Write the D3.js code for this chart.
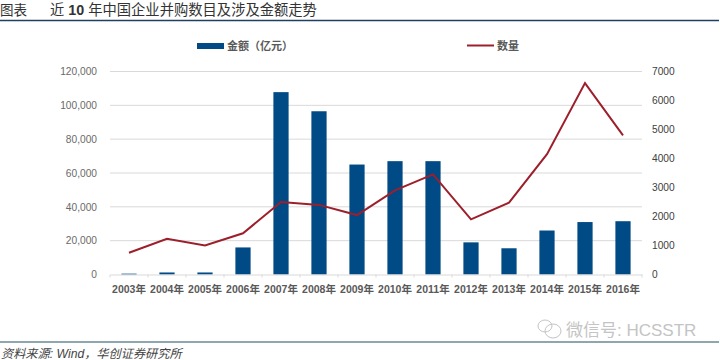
<!DOCTYPE html>
<html>
<head>
<meta charset="utf-8">
<script src="https://cdn.jsdelivr.net/npm/d3@7"></script>
<style>
  html, body { margin: 0; padding: 0; background: #fff; }
  svg { display: block; }
  text { font-family: "Liberation Sans", "Noto Sans CJK SC", sans-serif; }
</style>
</head>
<body>
<svg id="chart" width="720" height="360"></svg>
<script>
// The data
var years = ["2003年","2004年","2005年","2006年","2007年","2008年","2009年","2010年","2011年","2012年","2013年","2014年","2015年","2016年"];
var amounts = [500,1200,1200,16000,107800,96500,65000,67000,67000,19000,15500,26000,31000,31500];
var counts = [750,1230,1000,1420,2500,2400,2050,2900,3450,1900,2480,4150,6600,4800];
var leftTicks = [0,20000,40000,60000,80000,100000,120000];
var rightTicks = [0,1000,2000,3000,4000,5000,6000,7000];

var svg = d3.select("#chart"),
    margin = {top: 71.5, right: 78, bottom: 85.5, left: 110},
    width = +svg.attr("width") - margin.left - margin.right,
    height = +svg.attr("height") - margin.top - margin.bottom,
    g = svg.append("g").attr("transform", "translate(" + margin.left + "," + margin.top + ")");

// Scales
var x = d3.scaleBand().domain(years).range([0, width]).paddingInner(0.6).paddingOuter(0.3);
var yLeft = d3.scaleLinear().domain([0, 120000]).range([height, 0]);
var yRight = d3.scaleLinear().domain([0, 7000]).range([height, 0]);

// Header and footer
svg.append("text").attr("x", 0).attr("y", 15).attr("font-size", 13.5).attr("fill", "#333").text("图表");
svg.append("text").attr("x", 50).attr("y", 15).attr("font-size", 14.3).attr("fill", "#333")
    .html('近 <tspan font-weight="bold">10</tspan> 年中国企业并购数目及涉及金额走势');
svg.append("line").attr("x1", 0).attr("x2", 719).attr("y1", 20.5).attr("y2", 20.5)
    .attr("stroke", "#1f3f63").attr("stroke-width", 1.5);
svg.append("line").attr("x1", 0).attr("x2", 719).attr("y1", 342).attr("y2", 342)
    .attr("stroke", "#1f4f63").attr("stroke-width", 1.2);
svg.append("text").attr("x", 1).attr("y", 358).attr("font-size", 12.2).attr("font-style", "italic")
    .attr("fill", "#444").text("资料来源: Wind，华创证券研究所");

// Watermark
var mark = svg.append("g").attr("fill", "none").attr("stroke", "#c4c4c4").attr("stroke-width", 1);
mark.append("ellipse").attr("cx", 545).attr("cy", 326).attr("rx", 7).attr("ry", 6);
mark.append("ellipse").attr("cx", 553).attr("cy", 331).attr("rx", 8).attr("ry", 7);
svg.append("text").attr("x", 566).attr("y", 336).attr("font-size", 17).attr("fill", "#c4c4c4").text("微信号: HCSSTR");

// Grid
g.selectAll(".grid").data(leftTicks.slice(1)).enter().append("line")
    .attr("class", "grid")
    .attr("x1", 0).attr("x2", width)
    .attr("y1", function(d) { return yLeft(d); })
    .attr("y2", function(d) { return yLeft(d); })
    .attr("stroke", "#d9d9d9");

// Bars
g.selectAll(".bar").data(amounts).enter().append("rect")
    .attr("class", "bar")
    .attr("x", function(d, i) { return x(years[i]); })
    .attr("y", function(d) { return yLeft(d); })
    .attr("width", x.bandwidth())
    .attr("height", function(d) { return height - yLeft(d); })
    .attr("fill", "#004a85");

// Line
var line = d3.line()
    .x(function(d, i) { return x(years[i]) + x.bandwidth() / 2; })
    .y(function(d) { return yRight(d); });
g.append("path").datum(counts)
    .attr("d", line)
    .attr("fill", "none")
    .attr("stroke", "#9c1f2b")
    .attr("stroke-width", 2);

// Axis - bottom
var xAxis = g.append("g").attr("transform", "translate(0," + height + ")")
    .call(d3.axisBottom(x).tickSize(0).tickPadding(11));
xAxis.select(".domain").attr("stroke", "#d9d9d9");
xAxis.selectAll("text").attr("font-size", 10.5).attr("font-weight", "bold").attr("fill", "#595959")
    .style("font-family", '"Liberation Sans", "Noto Sans CJK SC", sans-serif');
g.selectAll(".xtick").data(d3.range(15)).enter().append("line")
    .attr("class", "xtick")
    .attr("x1", function(d) { return d * x.step(); })
    .attr("x2", function(d) { return d * x.step(); })
    .attr("y1", height).attr("y2", height + 3)
    .attr("stroke", "#d9d9d9");

// Axis - left and right
var leftAxis = g.append("g").call(d3.axisLeft(yLeft).tickValues(leftTicks).tickFormat(d3.format(",")).tickSize(0).tickPadding(13));
leftAxis.select(".domain").remove();
leftAxis.selectAll("text").attr("font-size", 10.2).attr("fill", "#6a6a6a")
    .style("font-family", '"Liberation Sans", sans-serif');
var rightAxis = g.append("g").attr("transform", "translate(" + width + ",0)")
    .call(d3.axisRight(yRight).tickValues(rightTicks).tickFormat(d3.format("d")).tickSize(0).tickPadding(10));
rightAxis.select(".domain").remove();
rightAxis.selectAll("text").attr("font-size", 10.2).attr("fill", "#404040")
    .style("font-family", '"Liberation Sans", sans-serif');

// Adding Legends
svg.append("rect").attr("x", 197).attr("y", 43).attr("width", 27).attr("height", 6).attr("fill", "#004a85");
svg.append("text").attr("x", 227).attr("y", 50).attr("font-size", 11).attr("font-weight", "bold").attr("fill", "#595959").text("金额（亿元）");
svg.append("line").attr("x1", 467).attr("x2", 494).attr("y1", 45.5).attr("y2", 45.5).attr("stroke", "#9c1f2b").attr("stroke-width", 2);
svg.append("text").attr("x", 497).attr("y", 50).attr("font-size", 11).attr("font-weight", "bold").attr("fill", "#595959").text("数量");
</script>
</body>
</html>
